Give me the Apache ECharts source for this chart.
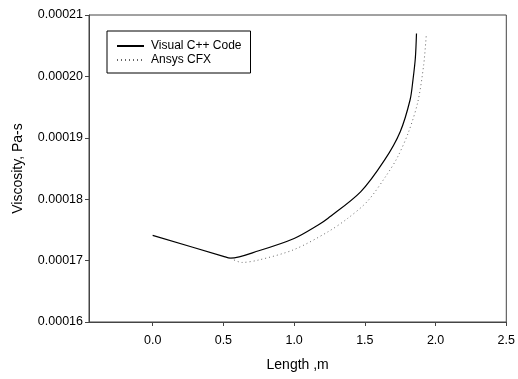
<!DOCTYPE html>
<html>
<head>
<meta charset="utf-8">
<script src="https://cdn.jsdelivr.net/npm/echarts@6/dist/echarts.min.js"></script>
<style>
  html, body { margin: 0; padding: 0; background: #fff; }
  #main { width: 518px; height: 379px; }
</style>
</head>
<body>
<div id="main"></div>
<script>
// values: [length m, viscosity Pa-s]
const visualCpp = [
  [0, 0.0001741], [0.5, 0.0001707], [0.55, 0.0001704], [0.75, 0.0001716],
  [1.0, 0.0001736], [1.17, 0.0001758], [1.24, 0.0001769],
  [1.47, 0.0001812], [1.64, 0.0001864], [1.75, 0.000191], [1.82, 0.0001962],
  [1.84, 0.0001994], [1.857, 0.000203], [1.865, 0.000207]
];
const ansysCfx = [
  [0.55, 0.0001704], [0.63, 0.0001697], [0.75, 0.0001701], [1.0, 0.0001718],
  [1.24, 0.0001747], [1.38, 0.0001769], [1.52, 0.0001797], [1.65, 0.0001838],
  [1.73, 0.0001868], [1.81, 0.000191], [1.875, 0.0001959], [1.916, 0.0002019],
  [1.935, 0.000207]
];
const xTicks = [0, 0.5, 1.0, 1.5, 2.0, 2.5];

const font = 'Liberation Sans, Arial, sans-serif';
const axisColor = '#444';

var myChart = echarts.init(document.getElementById('main'));
var option = {
  animation: false,
  textStyle: { fontFamily: font },
  grid: {
    left: 89, right: 9, top: 15, bottom: 57,
    show: true, borderColor: axisColor, borderWidth: 1
  },
  legend: {
    orient: 'vertical',
    left: 107, top: 31,
    padding: [9, 9, 7, 9],
    itemGap: 2,
    itemWidth: 27,
    itemHeight: 14,
    borderColor: '#000',
    borderWidth: 1,
    itemStyle: { opacity: 0 },
    textStyle: { fontSize: 12, color: '#000', fontFamily: font, padding: [0, 0, 0, 2] },
    data: ['Visual C++ Code', 'Ansys CFX']
  },
  xAxis: {
    type: 'value',
    min: -0.45,
    max: 2.5,
    name: 'Length ,m',
    nameLocation: 'middle',
    nameGap: 36,
    nameTextStyle: { fontSize: 14, color: '#000', fontFamily: font },
    axisLine: { show: true, onZero: false, lineStyle: { color: axisColor } },
    axisTick: { show: true, length: 4, customValues: xTicks, lineStyle: { color: axisColor } },
    axisLabel: {
      customValues: xTicks,
      fontSize: 12.5, color: '#000', margin: 12, fontFamily: font,
      formatter: v => v.toFixed(1)
    },
    splitLine: { show: false }
  },
  yAxis: {
    type: 'value',
    min: 0.00016,
    max: 0.00021,
    interval: 0.00001,
    name: 'Viscosity, Pa-s',
    nameLocation: 'middle',
    nameGap: 64,
    nameTextStyle: { fontSize: 14, color: '#000', fontFamily: font },
    axisLine: { show: true, onZero: false, lineStyle: { color: axisColor } },
    axisTick: { show: true, length: 4, lineStyle: { color: axisColor } },
    axisLabel: {
      fontSize: 12.5, color: '#000', margin: 6, fontFamily: font,
      formatter: v => v.toFixed(5)
    },
    splitLine: { show: false }
  },
  series: [
    {
      name: 'Visual C++ Code',
      type: 'line',
      data: visualCpp,
      smooth: 0.3,
      symbol: 'none',
      lineStyle: { color: '#000', width: 1.2, type: 'solid' },
      itemStyle: { color: '#000' }
    },
    {
      name: 'Ansys CFX',
      type: 'line',
      data: ansysCfx,
      smooth: 0.3,
      symbol: 'none',
      lineStyle: { color: '#666', width: 1, type: [1, 3] },
      itemStyle: { color: '#666' }
    }
  ]
};
myChart.setOption(option);
</script>
</body>
</html>
